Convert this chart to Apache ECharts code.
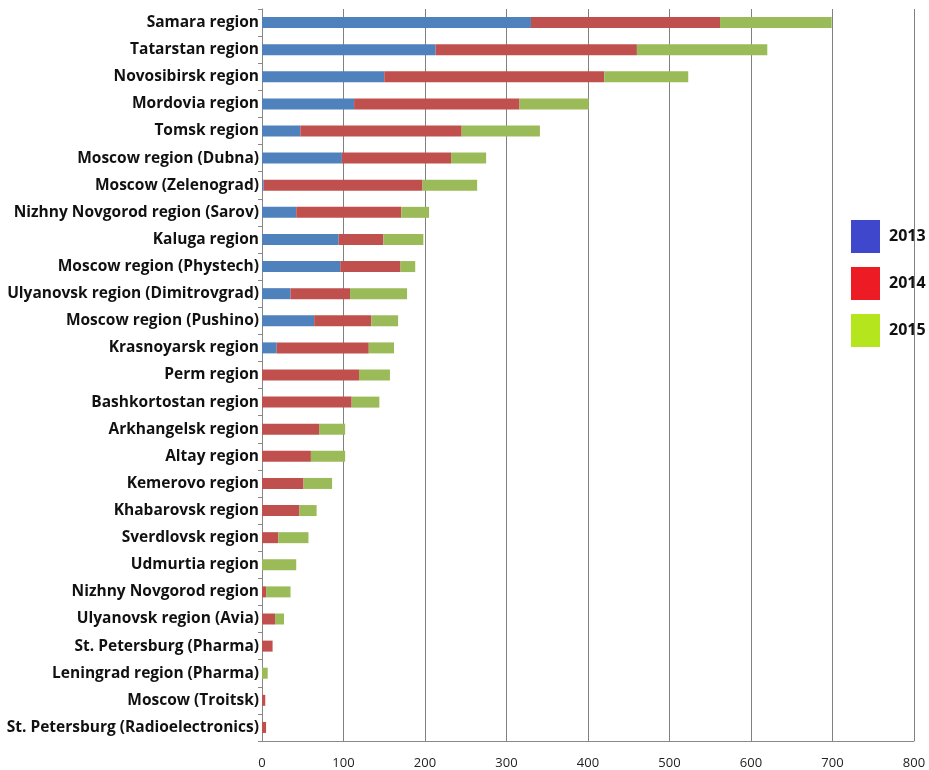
<!DOCTYPE html>
<html>
<head>
<meta charset="utf-8">
<script src="https://cdn.jsdelivr.net/npm/echarts@6/dist/echarts.min.js"></script>
<style>
html,body{margin:0;padding:0;background:#fff;}
#chart{width:929px;height:770px;}
</style>
</head>
<body>
<div id="chart"></div>
<script>
const categories = [
  "Samara region","Tatarstan region","Novosibirsk region","Mordovia region","Tomsk region",
  "Moscow region (Dubna)","Moscow (Zelenograd)","Nizhny Novgorod region (Sarov)","Kaluga region",
  "Moscow region (Phystech)","Ulyanovsk region (Dimitrovgrad)","Moscow region (Pushino)",
  "Krasnoyarsk region","Perm region","Bashkortostan region","Arkhangelsk region","Altay region",
  "Kemerovo region","Khabarovsk region","Sverdlovsk region","Udmurtia region",
  "Nizhny Novgorod region","Ulyanovsk region (Avia)","St. Petersburg (Pharma)",
  "Leningrad region (Pharma)","Moscow (Troitsk)","St. Petersburg (Radioelectronics)"
];
const v2013 = [330,213,150,113,47,98,2,42,94,96,35,64,18,0,0,0,0,0,0,0,0,0,0,0,0,0,0];
const v2014 = [232,247,270,203,198,134,195,129,55,74,73,70,113,119,110,70,60,51,46,20,0,5,16,13,0,4,5];
const v2015 = [137,160,103,85,96,43,67,34,49,18,70,33,31,38,34,32,42,35,21,37,42,30,11,0,7,0,0];
const xTicks = [0,100,200,300,400,500,600,700,800];

const barColors = ['#4F81BD','#C0504D','#9BBB59'];
const legendColors = ['#3F48CC','#ED1C24','#B5E61D'];
const names = ['2013','2014','2015'];
const values = [v2013, v2014, v2015];

const chart = echarts.init(document.getElementById('chart'));
chart.setOption({
  animation: false,
  backgroundColor: '#fff',
  grid: {left: 262, right: 15, top: 9, bottom: 28, containLabel: false},
  legend: {
    orient: 'vertical',
    left: 846, top: 215,
    itemWidth: 29, itemHeight: 33, itemGap: 14,
    icon: 'rect',
    textStyle: {fontFamily: 'Open Sans', fontWeight: 'bold', fontSize: 16, color: '#111', padding: [0,0,0,4]},
    data: names.map((n,i)=>({name:n, itemStyle:{color: legendColors[i]}}))
  },
  xAxis: {
    type: 'value', min: xTicks[0], max: xTicks[xTicks.length-1], interval: 100,
    axisLine: {show: true, lineStyle: {color: '#888'}},
    axisTick: {show: false},
    splitLine: {show: true, lineStyle: {color: '#808080', width: 1}},
    axisLabel: {fontFamily: 'Open Sans', fontSize: 13, color: '#222', margin: 16}
  },
  yAxis: {
    type: 'category', data: categories, inverse: true,
    axisLine: {show: true, lineStyle: {color: '#888'}},
    axisTick: {show: true, length: 4, lineStyle: {color: '#888'}},
    axisLabel: {fontFamily: 'Open Sans', fontWeight: 'bold', fontSize: 15.5, color: '#111', margin: 3, padding: [2,0,0,0]}
  },
  series: names.map((n,i)=>({
    name: n, type: 'bar', stack: 'total', barWidth: 11,
    itemStyle: {color: barColors[i]},
    data: values[i]
  }))
});
</script>
</body>
</html>
